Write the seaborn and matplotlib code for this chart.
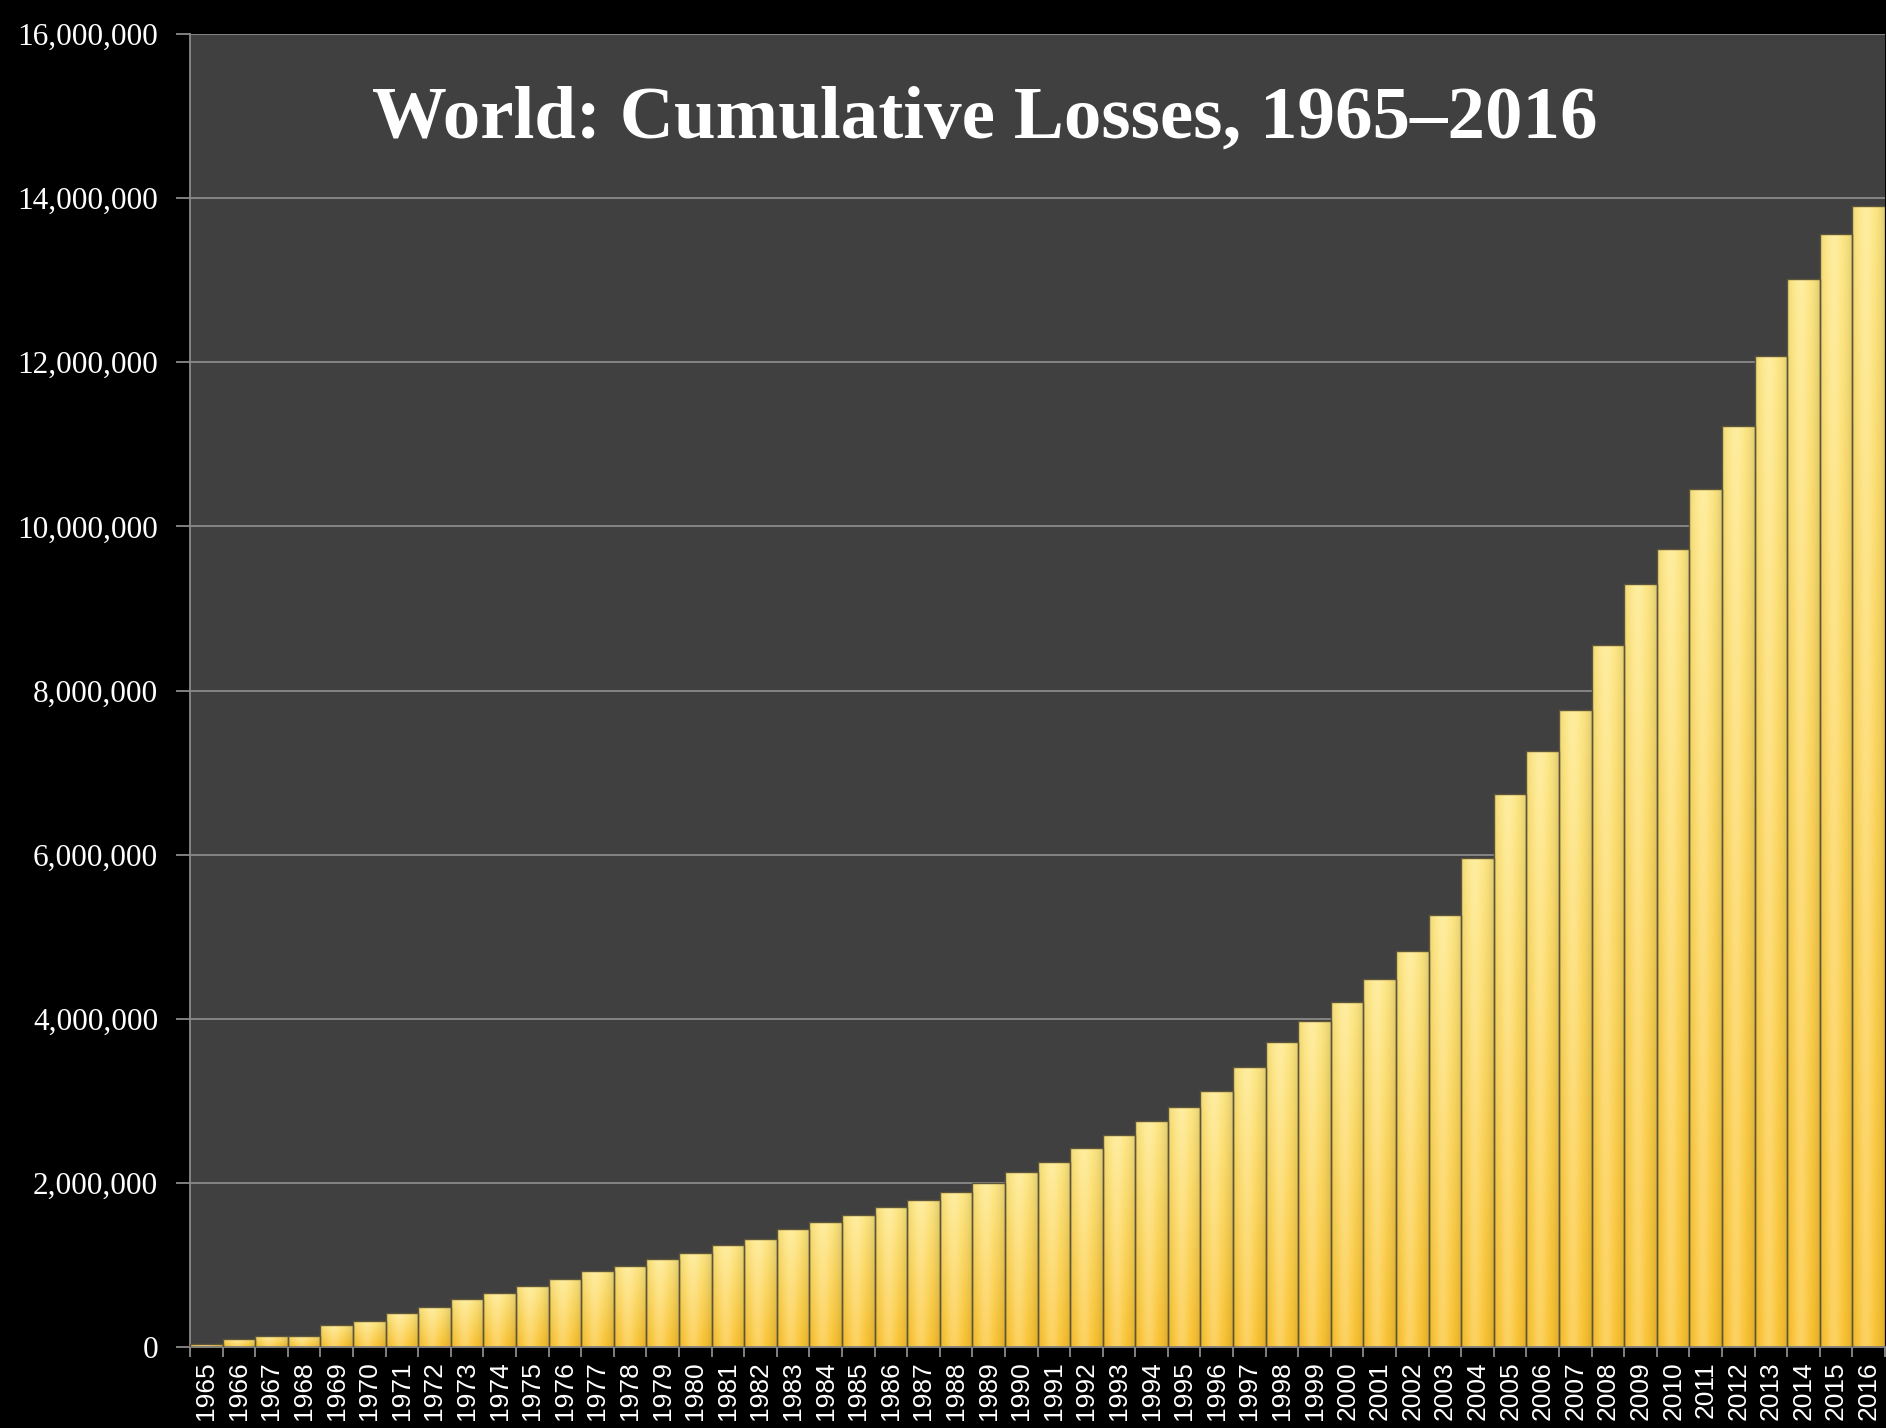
""" World cumulative losses bar chart, 1965-2016. """
import numpy as np
import pandas as pd
import seaborn as sns
import matplotlib.pyplot as plt
from matplotlib.ticker import FuncFormatter, FixedLocator
from matplotlib.colors import to_rgb

years = ["1965", "1966", "1967", "1968", "1969", "1970", "1971", "1972", "1973",
         "1974", "1975", "1976", "1977", "1978", "1979", "1980", "1981", "1982",
         "1983", "1984", "1985", "1986", "1987", "1988", "1989", "1990", "1991",
         "1992", "1993", "1994", "1995", "1996", "1997", "1998", "1999", "2000",
         "2001", "2002", "2003", "2004", "2005", "2006", "2007", "2008", "2009",
         "2010", "2011", "2012", "2013", "2014", "2015", "2016"]
losses = [40000, 100000, 140000, 140000, 270000, 320000, 410000, 490000, 580000,
          660000, 740000, 830000, 930000, 990000, 1070000, 1150000, 1240000, 1320000,
          1440000, 1520000, 1610000, 1700000, 1790000, 1890000, 2000000, 2130000, 2250000,
          2430000, 2580000, 2750000, 2930000, 3120000, 3410000, 3720000, 3970000, 4200000,
          4480000, 4820000, 5260000, 5960000, 6740000, 7260000, 7760000, 8560000, 9300000,
          9730000, 10450000, 11220000, 12080000, 13020000, 13560000, 13910000]
y_ticks = [0, 2000000, 4000000, 6000000, 8000000, 10000000, 12000000, 14000000, 16000000]
title = "World: Cumulative Losses, 1965\u20132016"

sns.set_theme(style="dark")
plt.rcParams["font.family"] = ["Liberation Serif", "DejaVu Serif"]

df = pd.DataFrame({"year": years, "losses": losses})

fig = plt.figure(figsize=(18.86, 14.28), dpi=100, facecolor="black")
ax = fig.add_axes([190 / 1886, 1 - 1347 / 1428, 1695 / 1886, 1313 / 1428])
ax.set_facecolor("#404040")

sns.barplot(data=df, x="year", y="losses", color="#fbd955", width=1.0,
            edgecolor="#5e5538", linewidth=1.0, saturation=1, ax=ax)

# glossy yellow gradient, clipped to each bar
top_c = np.array(to_rgb("#fee782"))
bot_c = np.array(to_rgb("#fbc330"))
t = np.linspace(0, 1, 80)[:, None, None]
xx = np.linspace(0, 1, 40)[None, :, None]
base = top_c * (1 - t) + bot_c * t
hl = 0.24 * np.exp(-((xx - 0.42) / 0.22) ** 2)
grad = base + (1 - base) * hl
grad = grad * (1 - 0.12 * (np.abs(xx - 0.45) / 0.55) ** 3)
grad = np.clip(grad, 0, 1)

for p in ax.patches:
    x0, y0 = p.get_x(), p.get_y()
    w, h = p.get_width(), p.get_height()
    im = ax.imshow(grad, extent=(x0, x0 + w, y0, y0 + h), origin="upper",
                   aspect="auto", zorder=2, interpolation="bilinear")
    im.set_clip_path(p)
    p.set_facecolor("none")
    p.set_zorder(3)

ax.set_xlim(-0.5, len(years) - 0.5)
ax.set_ylim(0, 16000000)
ax.set_axisbelow(True)

ax.yaxis.set_major_locator(FixedLocator(y_ticks))
ax.yaxis.set_major_formatter(FuncFormatter(lambda v, p: f"{int(v):,}"))
ax.grid(axis="y", color="#8a8a8a", linewidth=1.3)
ax.grid(axis="x", visible=False)

ax.tick_params(axis="y", which="major", left=True, length=10, width=1.3,
               color="#8a8a8a", labelcolor="white", labelsize=22.5, pad=13)
ax.set_xticks(range(len(years)))
ax.set_xticklabels(years, rotation=90, color="white", fontsize=19,
                   family=["Liberation Sans Narrow", "Liberation Sans", "DejaVu Sans"])
ax.set_xticks(np.arange(len(years) + 1) - 0.5, minor=True)
ax.tick_params(axis="x", which="major", bottom=True, length=0, pad=10)
ax.tick_params(axis="x", which="minor", bottom=True, length=7, width=1.3, color="#8a8a8a")

ax.set_xlabel("")
ax.set_ylabel("")
for side in ["top", "right"]:
    ax.spines[side].set_visible(False)
for side in ["left", "bottom"]:
    ax.spines[side].set_visible(True)
    ax.spines[side].set_color("#8a8a8a")
    ax.spines[side].set_linewidth(1.3)

fig.text(985 / 1886, 1 - 138 / 1428, title, ha="center", va="baseline",
         color="white", fontsize=54, fontweight="bold",
         family=["Liberation Serif", "DejaVu Serif"])

fig.savefig("out.png", dpi=100, facecolor="black")
